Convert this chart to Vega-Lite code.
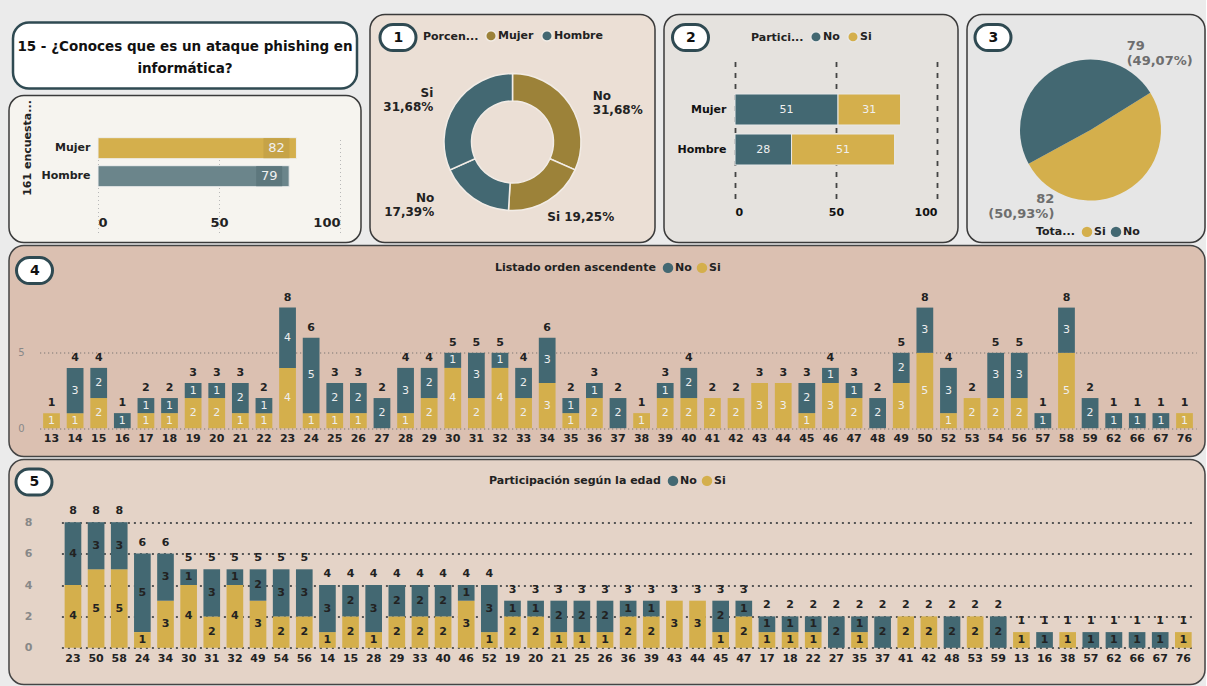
{
  "$schema": "https://vega.github.io/schema/vega-lite/v6.json",
  "background": "#ebebeb",
  "padding": {"left": 8, "top": 10.5, "right": 0, "bottom": 0},
  "config": {
    "font": "DejaVu Sans",
    "view": {"stroke": null},
    "axis": {"domain": false, "ticks": false, "grid": false, "labelFont": "DejaVu Sans", "titleFont": "DejaVu Sans"},
    "legend": {"labelFont": "DejaVu Sans", "titleFont": "DejaVu Sans", "labelFontSize": 11, "labelFontWeight": "bold", "labelColor": "#222", "titleFontSize": 11, "titleFontWeight": "bold", "titleColor": "#222", "symbolType": "circle", "symbolSize": 110, "columnPadding": 4, "labelOffset": 1, "titlePadding": 6, "padding": 0},
    "text": {"font": "DejaVu Sans"}
  },
  "datasets": {
    "edades": [
      {"edad": "13", "resp": "Si", "n": 1},
      {"edad": "14", "resp": "Si", "n": 1}, {"edad": "14", "resp": "No", "n": 3},
      {"edad": "15", "resp": "Si", "n": 2}, {"edad": "15", "resp": "No", "n": 2},
      {"edad": "16", "resp": "No", "n": 1},
      {"edad": "17", "resp": "Si", "n": 1}, {"edad": "17", "resp": "No", "n": 1},
      {"edad": "18", "resp": "Si", "n": 1}, {"edad": "18", "resp": "No", "n": 1},
      {"edad": "19", "resp": "Si", "n": 2}, {"edad": "19", "resp": "No", "n": 1},
      {"edad": "20", "resp": "Si", "n": 2}, {"edad": "20", "resp": "No", "n": 1},
      {"edad": "21", "resp": "Si", "n": 1}, {"edad": "21", "resp": "No", "n": 2},
      {"edad": "22", "resp": "Si", "n": 1}, {"edad": "22", "resp": "No", "n": 1},
      {"edad": "23", "resp": "Si", "n": 4}, {"edad": "23", "resp": "No", "n": 4},
      {"edad": "24", "resp": "Si", "n": 1}, {"edad": "24", "resp": "No", "n": 5},
      {"edad": "25", "resp": "Si", "n": 1}, {"edad": "25", "resp": "No", "n": 2},
      {"edad": "26", "resp": "Si", "n": 1}, {"edad": "26", "resp": "No", "n": 2},
      {"edad": "27", "resp": "No", "n": 2},
      {"edad": "28", "resp": "Si", "n": 1}, {"edad": "28", "resp": "No", "n": 3},
      {"edad": "29", "resp": "Si", "n": 2}, {"edad": "29", "resp": "No", "n": 2},
      {"edad": "30", "resp": "Si", "n": 4}, {"edad": "30", "resp": "No", "n": 1},
      {"edad": "31", "resp": "Si", "n": 2}, {"edad": "31", "resp": "No", "n": 3},
      {"edad": "32", "resp": "Si", "n": 4}, {"edad": "32", "resp": "No", "n": 1},
      {"edad": "33", "resp": "Si", "n": 2}, {"edad": "33", "resp": "No", "n": 2},
      {"edad": "34", "resp": "Si", "n": 3}, {"edad": "34", "resp": "No", "n": 3},
      {"edad": "35", "resp": "Si", "n": 1}, {"edad": "35", "resp": "No", "n": 1},
      {"edad": "36", "resp": "Si", "n": 2}, {"edad": "36", "resp": "No", "n": 1},
      {"edad": "37", "resp": "No", "n": 2},
      {"edad": "38", "resp": "Si", "n": 1},
      {"edad": "39", "resp": "Si", "n": 2}, {"edad": "39", "resp": "No", "n": 1},
      {"edad": "40", "resp": "Si", "n": 2}, {"edad": "40", "resp": "No", "n": 2},
      {"edad": "41", "resp": "Si", "n": 2},
      {"edad": "42", "resp": "Si", "n": 2},
      {"edad": "43", "resp": "Si", "n": 3},
      {"edad": "44", "resp": "Si", "n": 3},
      {"edad": "45", "resp": "Si", "n": 1}, {"edad": "45", "resp": "No", "n": 2},
      {"edad": "46", "resp": "Si", "n": 3}, {"edad": "46", "resp": "No", "n": 1},
      {"edad": "47", "resp": "Si", "n": 2}, {"edad": "47", "resp": "No", "n": 1},
      {"edad": "48", "resp": "No", "n": 2},
      {"edad": "49", "resp": "Si", "n": 3}, {"edad": "49", "resp": "No", "n": 2},
      {"edad": "50", "resp": "Si", "n": 5}, {"edad": "50", "resp": "No", "n": 3},
      {"edad": "52", "resp": "Si", "n": 1}, {"edad": "52", "resp": "No", "n": 3},
      {"edad": "53", "resp": "Si", "n": 2},
      {"edad": "54", "resp": "Si", "n": 2}, {"edad": "54", "resp": "No", "n": 3},
      {"edad": "56", "resp": "Si", "n": 2}, {"edad": "56", "resp": "No", "n": 3},
      {"edad": "57", "resp": "No", "n": 1},
      {"edad": "58", "resp": "Si", "n": 5}, {"edad": "58", "resp": "No", "n": 3},
      {"edad": "59", "resp": "No", "n": 2},
      {"edad": "62", "resp": "No", "n": 1},
      {"edad": "66", "resp": "No", "n": 1},
      {"edad": "67", "resp": "No", "n": 1},
      {"edad": "76", "resp": "Si", "n": 1}
    ]
  },
  "vconcat": [
    {
      "hconcat": [
        {
          "vconcat": [
            {"width": 1, "height": 1, "data": {"values": [{}]}, "mark": {"type": "point", "size": 0}, "encoding": {}},
            {
              "width": 344, "height": 66,
              "view": {"fill": "white", "stroke": "#2f4a52", "strokeWidth": 2.5, "cornerRadius": 16},
              "data": {"values": [{}]},
              "mark": {"type": "text", "text": ["15 - ¿Conoces que es un ataque phishing en", "informática?"], "fontSize": 13.5, "fontWeight": "bold", "color": "#111", "lineHeight": 22, "align": "center", "baseline": "middle", "dy": -9},
              "encoding": {}
            },
            {
              "width": 352, "height": 147,
              "view": {"fill": "#f6f4ef", "stroke": "#3a3a3a", "strokeWidth": 1.5, "cornerRadius": 15},
              "data": {"values": [{"genero": "Mujer", "n": 82}, {"genero": "Hombre", "n": 79}]},
              "encoding": {
                "y": {"field": "genero", "type": "nominal", "sort": ["Mujer", "Hombre"],
                  "scale": {"range": [10, 105], "paddingInner": 0.25, "paddingOuter": 0.82, "align": 0.7},
                  "axis": {"title": "161 encuesta...", "offset": -84, "labelPadding": 3, "labelFontSize": 11, "labelFontWeight": "bold", "labelColor": "#222", "titleFontSize": 11, "titleFontWeight": "bold", "titleColor": "#222", "titleX": -66, "titleY": 52, "titleAngle": -90, "titleAlign": "center", "titleBaseline": "middle"}},
                "x": {"field": "n", "type": "quantitative", "scale": {"domain": [0, 100], "range": [89, 331]},
                  "axis": {"values": [0, 50, 100], "title": null, "offset": -26.5, "labelPadding": 0, "grid": true, "gridDash": [1, 3], "gridColor": "#b8b8b8", "labelFontSize": 13, "labelFontWeight": "bold", "labelColor": "#222"}}
              },
              "layer": [
                {"mark": {"type": "bar", "stroke": "#eeeeee", "strokeWidth": 1}, "encoding": {"color": {"field": "genero", "type": "nominal", "scale": {"domain": ["Mujer", "Hombre"], "range": ["#d4af4c", "#6b858b"]}, "legend": null}}},
                {"mark": {"type": "point", "shape": "M-1,-0.77L1,-0.77L1,0.77L-1,0.77Z", "size": 676, "filled": true, "opacity": 1, "xOffset": -20}, "encoding": {"fill": {"field": "genero", "type": "nominal", "scale": {"domain": ["Mujer", "Hombre"], "range": ["#c6a347", "#5d777d"]}, "legend": null}}},
                {"mark": {"type": "text", "dx": -20, "color": "#f0f0f0", "fontSize": 13, "align": "center", "baseline": "middle"}, "encoding": {"text": {"field": "n", "type": "quantitative"}}}
              ]
            }
          ],
          "spacing": 7, "bounds": "flush", "center": true,
          "resolve": {"scale": {"color": "independent", "fill": "independent", "stroke": "independent", "shape": "independent", "theta": "independent"}}
        },
        {
          "width": 285, "height": 228,
          "view": {"fill": "#ebdfd5", "stroke": "#3a3a3a", "strokeWidth": 1.5, "cornerRadius": 15},
          "data": {"values": [
            {"genero": "Mujer", "resp": "No", "n": 51, "etiqueta": "No\n31,68%"},
            {"genero": "Mujer", "resp": "Si", "n": 31, "etiqueta": "Si 19,25%"},
            {"genero": "Hombre", "resp": "No", "n": 28, "etiqueta": "No\n17,39%"},
            {"genero": "Hombre", "resp": "Si", "n": 51, "etiqueta": "Si\n31,68%"}
          ]},
          "layer": [
            {"mark": {"type": "arc", "innerRadius": 41, "outerRadius": 68.5, "stroke": "#f2ece6", "strokeWidth": 1.5, "yOffset": 13.5},
              "encoding": {
                "theta": {"field": "n", "type": "quantitative", "stack": true},
                "color": {"field": "genero", "type": "nominal", "scale": {"domain": ["Mujer", "Hombre"], "range": ["#9c8239", "#436872"]},
                  "legend": {"orient": "none", "legendX": 53, "legendY": 15, "direction": "horizontal", "title": "Porcen...", "titleOrient": "left"}},
                "detail": {"field": "resp"},
                "order": {"field": "genero", "type": "nominal", "sort": "descending"}
              }},
            {"mark": {"type": "text", "radius": 92, "yOffset": 13.5, "dx": 3, "dy": 4, "align": "left", "baseline": "middle", "lineBreak": "\n", "fontSize": 12, "fontWeight": "bold", "color": "#222"},
              "encoding": {
                "theta": {"field": "n", "type": "quantitative", "stack": true},
                "detail": [{"field": "genero"}, {"field": "resp"}],
                "order": {"field": "genero", "type": "nominal", "sort": "descending"},
                "text": {"condition": {"test": "datum.genero === 'Mujer' && datum.resp === 'No'", "field": "etiqueta", "type": "nominal"}, "value": ""}
              }},
            {"mark": {"type": "text", "radius": 92, "yOffset": 13.5, "dx": -13, "dy": -4, "align": "left", "baseline": "middle", "lineBreak": "\n", "fontSize": 12, "fontWeight": "bold", "color": "#222"},
              "encoding": {
                "theta": {"field": "n", "type": "quantitative", "stack": true},
                "detail": [{"field": "genero"}, {"field": "resp"}],
                "order": {"field": "genero", "type": "nominal", "sort": "descending"},
                "text": {"condition": {"test": "datum.genero === 'Mujer' && datum.resp === 'Si'", "field": "etiqueta", "type": "nominal"}, "value": ""}
              }},
            {"mark": {"type": "text", "radius": 92, "yOffset": 13.5, "dx": -26, "dy": -20, "align": "right", "baseline": "middle", "lineBreak": "\n", "fontSize": 12, "fontWeight": "bold", "color": "#222"},
              "encoding": {
                "theta": {"field": "n", "type": "quantitative", "stack": true},
                "detail": [{"field": "genero"}, {"field": "resp"}],
                "order": {"field": "genero", "type": "nominal", "sort": "descending"},
                "text": {"condition": {"test": "datum.genero === 'Hombre' && datum.resp === 'No'", "field": "etiqueta", "type": "nominal"}, "value": ""}
              }},
            {"mark": {"type": "text", "radius": 92, "yOffset": 13.5, "dx": -2, "dy": 1.5, "align": "right", "baseline": "middle", "lineBreak": "\n", "fontSize": 12, "fontWeight": "bold", "color": "#222"},
              "encoding": {
                "theta": {"field": "n", "type": "quantitative", "stack": true},
                "detail": [{"field": "genero"}, {"field": "resp"}],
                "order": {"field": "genero", "type": "nominal", "sort": "descending"},
                "text": {"condition": {"test": "datum.genero === 'Hombre' && datum.resp === 'Si'", "field": "etiqueta", "type": "nominal"}, "value": ""}
              }},
            {"data": {"values": [{}]}, "mark": {"type": "point", "filled": true, "fill": "white", "size": 0},
              "encoding": {"stroke": {"datum": "1", "scale": {"range": ["#2f4a52"]},
                "legend": {"orient": "none", "legendX": 16.5, "legendY": 11.5, "title": null, "symbolType": "M-0.5,-1.3L0.5,-1.3A1.3,1.3,0,0,1,0.5,1.3L-0.5,1.3A1.3,1.3,0,0,1,-0.5,-1.3Z", "symbolSize": 400, "symbolFillColor": "white", "symbolStrokeWidth": 3, "symbolOpacity": 1, "labelOffset": -16, "labelFontSize": 14, "labelFontWeight": "bold", "labelColor": "#111", "padding": 0}}}}
          ]
        },
        {
          "width": 294, "height": 228,
          "view": {"fill": "#e5e2de", "stroke": "#3a3a3a", "strokeWidth": 1.5, "cornerRadius": 15},
          "data": {"values": [
            {"genero": "Mujer", "resp": "No", "n": 51},
            {"genero": "Mujer", "resp": "Si", "n": 31},
            {"genero": "Hombre", "resp": "No", "n": 28},
            {"genero": "Hombre", "resp": "Si", "n": 51}
          ]},
          "layer": [
            {"mark": {"type": "bar", "stroke": "#e8e8e8", "strokeWidth": 1},
              "encoding": {
                "y": {"field": "genero", "type": "nominal", "sort": ["Mujer", "Hombre"], "scale": {"range": [44, 186], "paddingInner": 0.225, "paddingOuter": 0.8875},
                  "axis": {"title": null, "offset": -64, "labelPadding": 2, "labelFontSize": 11, "labelFontWeight": "bold", "labelColor": "#111"}},
                "x": {"field": "n", "type": "quantitative", "stack": "zero", "scale": {"domain": [0, 100], "range": [71, 273]},
                  "axis": {"values": [0, 50, 100], "title": null, "offset": -36.5, "labelPadding": 0, "grid": true, "gridDash": [5, 6], "gridWidth": 1.8, "gridColor": "#444", "labelFontSize": 11, "labelFontWeight": "bold", "labelColor": "#111"}},
                "color": {"field": "resp", "type": "nominal", "scale": {"domain": ["No", "Si"], "range": ["#436872", "#d4af4c"]},
                  "legend": {"orient": "none", "legendX": 87, "legendY": 16, "direction": "horizontal", "title": "Partici...", "titleOrient": "left"}},
                "order": {"field": "resp", "sort": "ascending"}
              }},
            {"mark": {"type": "text", "color": "#f0f0f0", "fontSize": 11, "baseline": "middle", "align": "center"},
              "encoding": {
                "y": {"field": "genero", "type": "nominal", "sort": ["Mujer", "Hombre"]},
                "x": {"field": "n", "type": "quantitative", "stack": "zero", "bandPosition": 0.5},
                "detail": {"field": "resp"},
                "order": {"field": "resp", "sort": "ascending"},
                "text": {"field": "n", "type": "quantitative"}
              }},
            {"data": {"values": [{}]}, "mark": {"type": "point", "filled": true, "fill": "white", "size": 0},
              "encoding": {"stroke": {"datum": "2", "scale": {"range": ["#2f4a52"]},
                "legend": {"orient": "none", "legendX": 15, "legendY": 11.5, "title": null, "symbolType": "M-0.5,-1.3L0.5,-1.3A1.3,1.3,0,0,1,0.5,1.3L-0.5,1.3A1.3,1.3,0,0,1,-0.5,-1.3Z", "symbolSize": 400, "symbolFillColor": "white", "symbolStrokeWidth": 3, "symbolOpacity": 1, "labelOffset": -16, "labelFontSize": 14, "labelFontWeight": "bold", "labelColor": "#111", "padding": 0}}}}
          ]
        },
        {
          "width": 238, "height": 228,
          "view": {"fill": "#e6e6e6", "stroke": "#3a3a3a", "strokeWidth": 1.5, "cornerRadius": 15},
          "data": {"values": [
            {"resp": "Si", "n": 82, "etiqueta": "82\n(50,93%)"},
            {"resp": "No", "n": 79, "etiqueta": "79\n(49,07%)"}
          ]},
          "resolve": {"scale": {"theta": "independent"}},
          "layer": [
            {"mark": {"type": "arc", "outerRadius": 70.5, "xOffset": 4.5, "yOffset": 1.5},
              "encoding": {
                "theta": {"field": "n", "type": "quantitative", "stack": true, "scale": {"range": [1.0123, 7.2955]}},
                "color": {"field": "resp", "type": "nominal", "scale": {"domain": ["Si", "No"], "range": ["#d4af4c", "#436872"]},
                  "legend": {"orient": "none", "legendX": 69, "legendY": 211, "direction": "horizontal", "title": "Tota...", "titleOrient": "left"}},
                "order": {"field": "resp", "sort": "descending"}
              }},
            {"mark": {"type": "text", "radius": 85, "xOffset": 4.5, "yOffset": 1.5, "dy": -7.5, "align": "left", "baseline": "middle", "lineBreak": "\n", "fontSize": 13, "fontWeight": "bold", "color": "#6e6e6e"},
              "encoding": {
                "theta": {"field": "n", "type": "quantitative", "stack": true, "scale": {"range": [1.981, 8.264]}},
                "detail": {"field": "resp"},
                "order": {"field": "resp", "sort": "descending"},
                "text": {"condition": {"test": "datum.resp === 'No'", "field": "etiqueta", "type": "nominal"}, "value": ""}
              }},
            {"mark": {"type": "text", "radius": 85, "xOffset": 4.5, "yOffset": 1.5, "dy": -7.5, "align": "right", "baseline": "middle", "lineBreak": "\n", "fontSize": 13, "fontWeight": "bold", "color": "#6e6e6e"},
              "encoding": {
                "theta": {"field": "n", "type": "quantitative", "stack": true, "scale": {"range": [1.981, 8.264]}},
                "detail": {"field": "resp"},
                "order": {"field": "resp", "sort": "descending"},
                "text": {"condition": {"test": "datum.resp === 'Si'", "field": "etiqueta", "type": "nominal"}, "value": ""}
              }},
            {"data": {"values": [{}]}, "mark": {"type": "point", "filled": true, "fill": "white", "size": 0},
              "encoding": {"stroke": {"datum": "3", "scale": {"range": ["#2f4a52"]},
                "legend": {"orient": "none", "legendX": 14.5, "legendY": 11.5, "title": null, "symbolType": "M-0.5,-1.3L0.5,-1.3A1.3,1.3,0,0,1,0.5,1.3L-0.5,1.3A1.3,1.3,0,0,1,-0.5,-1.3Z", "symbolSize": 400, "symbolFillColor": "white", "symbolStrokeWidth": 3, "symbolOpacity": 1, "labelOffset": -16, "labelFontSize": 14, "labelFontWeight": "bold", "labelColor": "#111", "padding": 0}}}}
          ]
        }
      ],
      "spacing": 7, "bounds": "full",
      "resolve": {"scale": {"color": "independent", "fill": "independent", "stroke": "independent", "shape": "independent", "theta": "independent"}}
    },
    {
      "width": 1196, "height": 211,
      "view": {"fill": "#dbc0b1", "stroke": "#444", "strokeWidth": 1.5, "cornerRadius": 15},
      "data": {"name": "edades"},
      "layer": [
        {"mark": {"type": "bar"},
          "encoding": {
            "x": {"field": "edad", "type": "nominal", "sort": "ascending", "scale": {"range": [30.7, 1187.3], "paddingInner": 0.29, "paddingOuter": 0.145},
              "axis": {"title": null, "offset": -24.5, "labelPadding": 0, "labelAngle": 0, "labelFontWeight": "bold", "labelFontSize": 11, "labelColor": "#222"}},
            "y": {"field": "n", "type": "quantitative", "stack": "zero", "scale": {"domain": [0, 8], "range": [182.7, 62.1], "nice": false},
              "axis": {"values": [0, 5], "title": null, "offset": -17, "labelPadding": 2, "grid": true, "gridDash": [1, 3], "gridColor": "#666", "labelColor": "#888", "labelFontSize": 10}},
            "color": {"field": "resp", "type": "nominal", "scale": {"domain": ["No", "Si"], "range": ["#436872", "#d4af4c"]},
              "legend": {"orient": "none", "legendX": 486, "legendY": 16, "direction": "horizontal", "title": "Listado orden ascendente", "titleOrient": "left"}},
            "order": {"field": "resp", "sort": "descending"}
          }},
        {"mark": {"type": "text", "color": "#eeeeee", "fontSize": 11, "baseline": "middle", "align": "center"},
          "encoding": {
            "x": {"field": "edad", "type": "nominal", "sort": "ascending"},
            "y": {"field": "n", "type": "quantitative", "stack": "zero", "bandPosition": 0.5},
            "detail": {"field": "resp"},
            "order": {"field": "resp", "sort": "descending"},
            "text": {"field": "n", "type": "quantitative"}
          }},
        {"mark": {"type": "text", "fontWeight": "bold", "fontSize": 11, "baseline": "bottom", "dy": -5, "color": "#222", "align": "center"},
          "encoding": {
            "x": {"field": "edad", "type": "nominal", "sort": "ascending"},
            "y": {"aggregate": "sum", "field": "n", "type": "quantitative"},
            "text": {"aggregate": "sum", "field": "n", "type": "quantitative"}
          }},
        {"data": {"values": [{}]}, "mark": {"type": "point", "filled": true, "fill": "white", "size": 0},
          "encoding": {"stroke": {"datum": "4", "scale": {"range": ["#2f4a52"]},
            "legend": {"orient": "none", "legendX": 14, "legendY": 13.5, "title": null, "symbolType": "M-0.5,-1.3L0.5,-1.3A1.3,1.3,0,0,1,0.5,1.3L-0.5,1.3A1.3,1.3,0,0,1,-0.5,-1.3Z", "symbolSize": 400, "symbolFillColor": "white", "symbolStrokeWidth": 3, "symbolOpacity": 1, "labelOffset": -16, "labelFontSize": 14, "labelFontWeight": "bold", "labelColor": "#111", "padding": 0}}}}
      ]
    },
    {
      "width": 1196, "height": 225,
      "view": {"fill": "#e4d3c7", "stroke": "#444", "strokeWidth": 1.5, "cornerRadius": 15},
      "data": {"name": "edades"},
      "layer": [
        {"mark": {"type": "bar"},
          "encoding": {
            "x": {"field": "edad", "type": "nominal", "sort": ["23","50","58","24","34","30","31","32","49","54","56","14","15","28","29","33","40","46","52","19","20","21","25","26","36","39","43","44","45","47","17","18","22","27","35","37","41","42","48","53","59","13","16","38","57","62","66","67","76"],
              "scale": {"range": [52.4, 1185.9], "paddingInner": 0.28, "paddingOuter": 0.14},
              "axis": {"title": null, "offset": -32, "labelPadding": 0, "labelAngle": 0, "labelFontWeight": "bold", "labelFontSize": 11, "labelColor": "#222"}},
            "y": {"field": "n", "type": "quantitative", "stack": "zero", "scale": {"domain": [0, 8], "range": [188.3, 62.7], "nice": false},
              "axis": {"values": [0, 2, 4, 6, 8], "title": null, "offset": -25, "labelPadding": 2, "grid": true, "gridDash": [2, 4], "gridWidth": 2, "gridColor": "#555", "labelColor": "#888", "labelFontSize": 11, "labelFontWeight": "bold"}},
            "color": {"field": "resp", "type": "nominal", "scale": {"domain": ["No", "Si"], "range": ["#436872", "#d4af4c"]},
              "legend": {"orient": "none", "legendX": 480, "legendY": 15, "direction": "horizontal", "title": "Participación según la edad", "titleOrient": "left"}},
            "order": {"field": "resp", "sort": "descending"}
          }},
        {"mark": {"type": "text", "color": "#222", "fontSize": 11, "fontWeight": "bold", "baseline": "middle", "align": "center"},
          "encoding": {
            "x": {"field": "edad", "type": "nominal", "sort": ["23","50","58","24","34","30","31","32","49","54","56","14","15","28","29","33","40","46","52","19","20","21","25","26","36","39","43","44","45","47","17","18","22","27","35","37","41","42","48","53","59","13","16","38","57","62","66","67","76"]},
            "y": {"field": "n", "type": "quantitative", "stack": "zero", "bandPosition": 0.5},
            "detail": {"field": "resp"},
            "order": {"field": "resp", "sort": "descending"},
            "text": {"field": "n", "type": "quantitative"}
          }},
        {"mark": {"type": "text", "fontWeight": "bold", "fontSize": 11, "baseline": "bottom", "dy": -6, "color": "#222", "align": "center"},
          "encoding": {
            "x": {"field": "edad", "type": "nominal", "sort": ["23","50","58","24","34","30","31","32","49","54","56","14","15","28","29","33","40","46","52","19","20","21","25","26","36","39","43","44","45","47","17","18","22","27","35","37","41","42","48","53","59","13","16","38","57","62","66","67","76"]},
            "y": {"aggregate": "sum", "field": "n", "type": "quantitative"},
            "text": {"aggregate": "sum", "field": "n", "type": "quantitative"}
          }},
        {"data": {"values": [{}]}, "mark": {"type": "point", "filled": true, "fill": "white", "size": 0},
          "encoding": {"stroke": {"datum": "5", "scale": {"range": ["#2f4a52"]},
            "legend": {"orient": "none", "legendX": 13.5, "legendY": 11, "title": null, "symbolType": "M-0.5,-1.3L0.5,-1.3A1.3,1.3,0,0,1,0.5,1.3L-0.5,1.3A1.3,1.3,0,0,1,-0.5,-1.3Z", "symbolSize": 400, "symbolFillColor": "white", "symbolStrokeWidth": 3, "symbolOpacity": 1, "labelOffset": -16, "labelFontSize": 14, "labelFontWeight": "bold", "labelColor": "#111", "padding": 0}}}}
      ]
    }
  ],
  "spacing": 1, "bounds": "full",
  "resolve": {"scale": {"color": "independent", "fill": "independent", "stroke": "independent", "shape": "independent", "theta": "independent"}}
}
